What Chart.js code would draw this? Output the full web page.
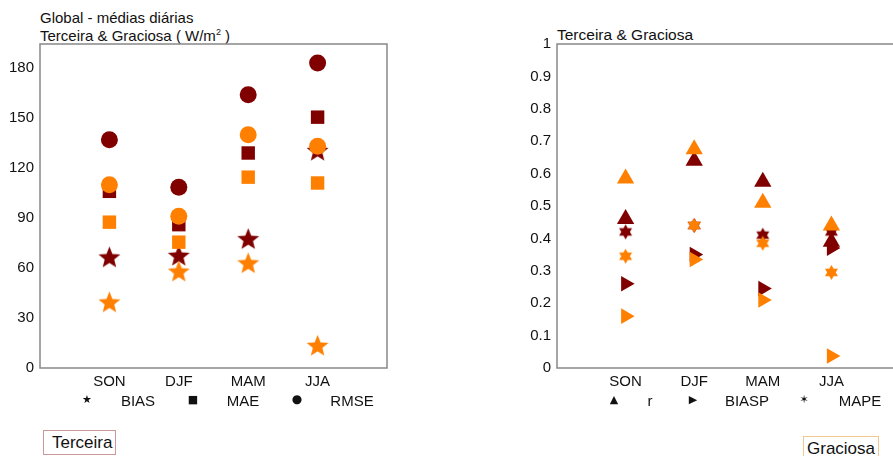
<!DOCTYPE html>
<html>
<head>
<meta charset="utf-8">
<script src="https://cdn.jsdelivr.net/npm/chart.js@4.4.1/dist/chart.umd.min.js"></script>
<style>
  body { margin: 0; width: 893px; height: 456px; overflow: hidden; background: #fff; position: relative;
         font-family: "Liberation Sans", Arial, sans-serif; color: #111; }
  .box { position: absolute; top: 0; height: 395px; }
  .t { position: absolute; font-size: 15px; white-space: nowrap; line-height: 1; }
  .c { transform: translate(-50%, -50%); }
  .m { font-family: "DejaVu Sans", sans-serif; }
  .tag { position: absolute; font-size: 17px; line-height: 1.2; }
</style>
</head>
<body>
<div class="t" style="left:40px; top:10px;">Global - médias diárias</div>
<div class="t" style="left:40px; top:28px;">Terceira &amp; Graciosa ( W/m<sup style="font-size:9px">2</sup> )</div>
<div class="t" style="left:557px; top:27px; font-size:15.5px;">Terceira &amp; Graciosa</div>

<div class="box" style="left:0; width:400px;"><canvas id="left"></canvas></div>
<div class="box" style="left:510px; width:400px;"><canvas id="right"></canvas></div>

<span class="t c m" style="left:87px; top:399px; font-size:11px;">★</span>
<span class="t c" style="left:138px; top:400px;">BIAS</span>
<span class="t c m" style="left:193px; top:399px; font-size:11px;">■</span>
<span class="t c" style="left:243px; top:400px;">MAE</span>
<span class="t c m" style="left:297px; top:399px; font-size:12px;">●</span>
<span class="t c" style="left:352px; top:400px;">RMSE</span>

<span class="t c m" style="left:614px; top:399px; font-size:11px;">▲</span>
<span class="t c" style="left:650px; top:400px;">r</span>
<span class="t c m" style="left:693px; top:399px; font-size:11px;">▶</span>
<span class="t c" style="left:747px; top:400px;">BIASP</span>
<span class="t c m" style="left:804px; top:399px; font-size:11px;">✶</span>
<span class="t c" style="left:860px; top:400px;">MAPE</span>

<div class="tag" style="left:43px; top:430px; padding:2px 3px 1px 8px; border:1px solid #c99;">Terceira</div>
<div class="tag" style="left:803px; top:436px; padding:2px 3px 1px 3px; border:1px solid #f0c890;">Graciosa</div>

<script>
const seasons = ['SON', 'DJF', 'MAM', 'JJA'];

// Terceira (dark red) / Graciosa (orange), W/m2
const biasTer = [66, 67, 77, 130];
const biasGra = [39, 57.5, 62.5, 13];
const maeTer = [106, 86, 129, 150.5];
const maeGra = [87.5, 75.5, 114.5, 111];
const rmseTer = [137, 108.5, 164, 183];
const rmseGra = [110, 91, 140, 133];
const leftTicks = [0, 30, 60, 90, 120, 150, 180];

// dimensionless scores
const rTer = [0.46, 0.64, 0.575, 0.39];
const rGra = [0.585, 0.675, 0.51, 0.44];
const biaspTer = [0.26, 0.35, 0.245, 0.37];
const biaspGra = [0.16, 0.335, 0.21, 0.037];
const mapeTer = [0.42, 0.44, 0.41, 0.42];
const mapeGra = [0.345, 0.44, 0.385, 0.295];
const rightTicks = [0, 0.1, 0.2, 0.3, 0.4, 0.5, 0.6, 0.7, 0.8, 0.9, 1];

const DARK = '#800000';
const ORANGE = '#ff8000';

function starImg(points, outer, inner, color) {
  const c = document.createElement('canvas');
  const s = Math.ceil(outer * 2) + 2;
  c.width = c.height = s;
  const g = c.getContext('2d');
  g.fillStyle = color;
  g.beginPath();
  for (let i = 0; i < points * 2; i++) {
    const r = i % 2 ? inner : outer;
    const a = -Math.PI / 2 + i * Math.PI / points;
    const x = s / 2 + r * Math.cos(a), y = s / 2 + r * Math.sin(a);
    if (i) g.lineTo(x, y); else g.moveTo(x, y);
  }
  g.closePath();
  g.fill();
  return c;
}

const pts = (arr) => arr.map((v, i) => ({ x: i + 1, y: v }));

function ds(label, arr, color, style, radius, rotation) {
  return {
    label, data: pts(arr), showLine: false, clip: false,
    pointStyle: style, pointRadius: radius, pointHoverRadius: radius,
    pointRotation: rotation || 0,
    pointBackgroundColor: color, pointBorderColor: color, pointBorderWidth: 0
  };
}

const frame = {
  id: 'frame',
  afterDraw(chart) {
    const a = chart.chartArea, g = chart.ctx;
    g.save();
    g.strokeStyle = '#888';
    g.lineWidth = 1.5;
    g.strokeRect(a.left, a.top, a.right - a.left, a.bottom - a.top);
    g.restore();
  }
};

function options(yMax, ticks, axisWidth, rightPad, fmt) {
  const font = { family: '"Liberation Sans", Arial, sans-serif', size: 15 };
  return {
    responsive: true, maintainAspectRatio: false, animation: false,
    layout: { padding: { top: 44, right: rightPad, bottom: 7, left: 0 } },
    plugins: { legend: { display: false }, tooltip: { enabled: false } },
    scales: {
      x: {
        type: 'linear', min: 0, max: 5,
        grid: { display: false, drawTicks: false },
        border: { display: false },
        afterBuildTicks: (s) => { s.ticks = seasons.map((_, i) => ({ value: i + 1 })); },
        afterFit: (s) => { s.height = 20; },
        ticks: { color: '#111', font, padding: 5, autoSkip: false, maxRotation: 0,
                 callback: (v) => seasons[v - 1] || '' }
      },
      y: {
        min: 0, max: yMax,
        grid: { display: false, drawTicks: false },
        border: { display: false },
        afterBuildTicks: (s) => { s.ticks = ticks.map((v) => ({ value: v })); },
        afterFit: (s) => { s.width = axisWidth; },
        ticks: { color: '#111', font, padding: 6, callback: fmt }
      }
    }
  };
}

new Chart(document.getElementById('left'), {
  type: 'scatter',
  data: {
    datasets: [
      ds('RMSE Graciosa', rmseGra, ORANGE, 'circle', 8.5),
      ds('MAE Graciosa', maeGra, ORANGE, 'rect', 9.5),
      ds('BIAS Graciosa', biasGra, ORANGE, starImg(5, 11.5, 5, ORANGE), 11),
      ds('RMSE Terceira', rmseTer, DARK, 'circle', 8.5),
      ds('MAE Terceira', maeTer, DARK, 'rect', 9.5),
      ds('BIAS Terceira', biasTer, DARK, starImg(5, 11.5, 5, DARK), 11)
    ]
  },
  options: options(194.4, leftTicks, 40, 13, (v) => String(v)),
  plugins: [frame]
});

new Chart(document.getElementById('right'), {
  type: 'scatter',
  data: {
    datasets: [
      ds('r Graciosa', rGra, ORANGE, 'triangle', 10),
      ds('MAPE Graciosa', mapeGra, ORANGE, starImg(6, 7.5, 4.3, ORANGE), 7),
      ds('BIASP Graciosa', biaspGra, ORANGE, 'triangle', 9, 90),
      ds('r Terceira', rTer, DARK, 'triangle', 10),
      ds('MAPE Terceira', mapeTer, DARK, starImg(6, 7.5, 4.3, DARK), 7),
      ds('BIASP Terceira', biaspTer, DARK, 'triangle', 9, 90)
    ]
  },
  options: options(1, rightTicks, 47, 8, (v) => String(Math.round(v * 10) / 10)),
  plugins: [frame]
});
</script>
</body>
</html>
